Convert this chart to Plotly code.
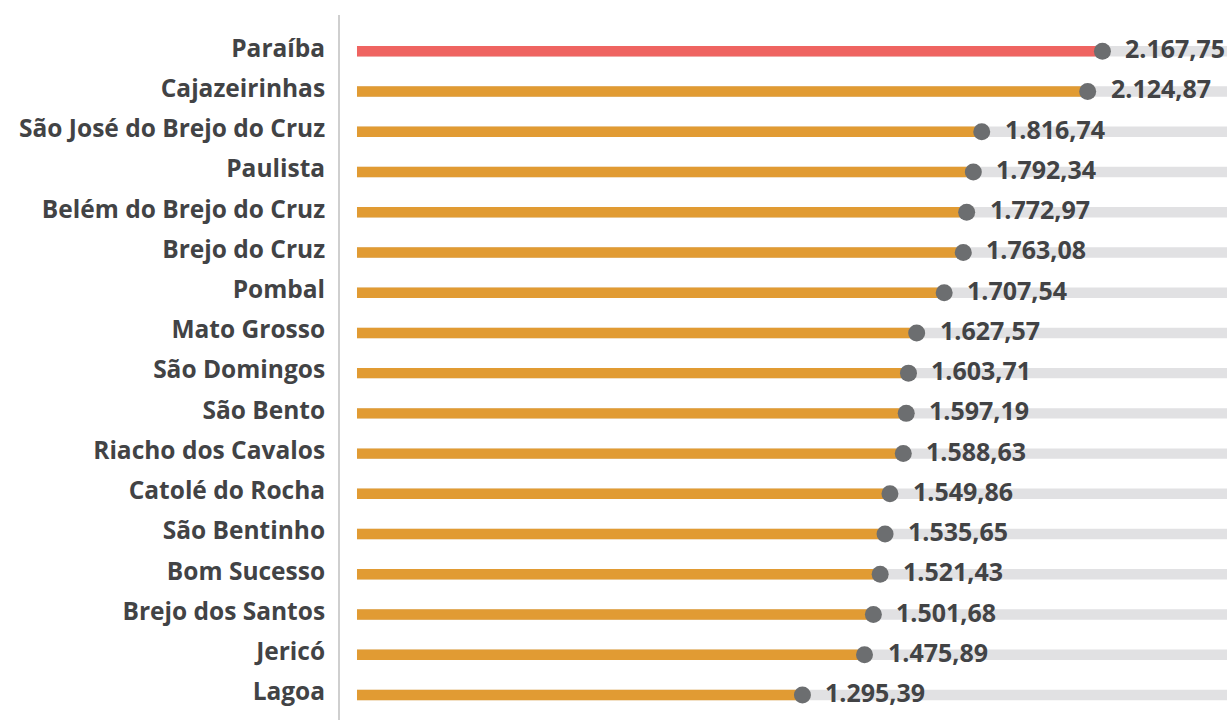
import plotly.graph_objects as go

# Municipalities and their values (top to bottom)
municipios = [
    "Paraíba", "Cajazeirinhas", "São José do Brejo do Cruz", "Paulista",
    "Belém do Brejo do Cruz", "Brejo do Cruz", "Pombal", "Mato Grosso",
    "São Domingos", "São Bento", "Riacho dos Cavalos", "Catolé do Rocha",
    "São Bentinho", "Bom Sucesso", "Brejo dos Santos", "Jericó", "Lagoa",
]
valores = [
    2167.75, 2124.87, 1816.74, 1792.34, 1772.97, 1763.08, 1707.54, 1627.57,
    1603.71, 1597.19, 1588.63, 1549.86, 1535.65, 1521.43, 1501.68, 1475.89,
    1295.39,
]
destaque = "Paraíba"

X_MIN, X_MAX = -49.4, 2530
COR_DESTAQUE = "#ef6461"
COR_BARRA = "#e19b33"
COR_TRILHO = "#e1e1e3"
COR_PONTO = "#6c6e70"
COR_TEXTO = "#424345"


def fmt_br(v):
    s = f"{v:,.2f}"
    return s.replace(",", "X").replace(".", ",").replace("X", ".")


pos = list(range(len(municipios)))
cores = [COR_DESTAQUE if m == destaque else COR_BARRA for m in municipios]

fig = go.Figure()

# background track for every row
fig.add_trace(go.Bar(
    x=[X_MAX] * len(pos), y=pos, orientation="h", width=0.26,
    marker=dict(color=COR_TRILHO, line=dict(width=0)),
    hoverinfo="skip", showlegend=False,
))

# value bars
fig.add_trace(go.Bar(
    x=valores, y=pos, orientation="h", width=0.26,
    marker=dict(color=cores, line=dict(width=0)),
    showlegend=False,
))

# end dots
fig.add_trace(go.Scatter(
    x=valores, y=pos, mode="markers",
    marker=dict(size=17, color=COR_PONTO),
    showlegend=False,
))

for v, p in zip(valores, pos):
    fig.add_annotation(
        x=v, y=p, text=fmt_br(v), showarrow=False,
        xanchor="left", yanchor="middle", xshift=21, yshift=3,
        font=dict(family="Open Sans", size=25, color=COR_TEXTO, weight=700),
    )

fig.update_layout(
    width=1227, height=720,
    margin=dict(l=340, r=0, t=15, b=0),
    paper_bgcolor="white", plot_bgcolor="white",
    barmode="overlay",
    xaxis=dict(range=[X_MIN, X_MAX], visible=False, fixedrange=True),
    yaxis=dict(
        range=[16.62, -0.9],
        tickmode="array", tickvals=[p - 0.08 for p in pos], ticktext=municipios,
        showline=True, linecolor="#cfcfcf", linewidth=2,
        showgrid=False, zeroline=False, ticks="",
        ticklabelstandoff=8,
        tickfont=dict(family="Open Sans", size=24.5, color=COR_TEXTO, weight=700),
        fixedrange=True,
    ),
)

fig.write_html("out.html")
